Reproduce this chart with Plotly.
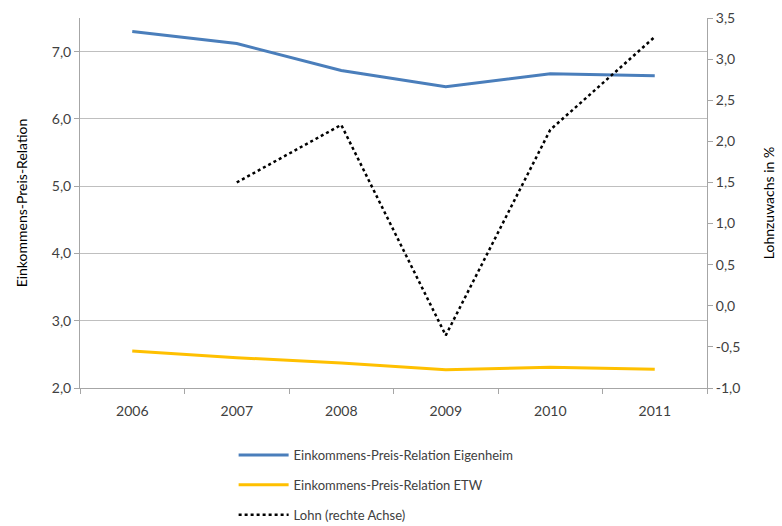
import plotly.graph_objects as go

years = ["2006", "2007", "2008", "2009", "2010", "2011"]
eigenheim = [7.30, 7.12, 6.72, 6.48, 6.67, 6.64]
etw = [2.55, 2.45, 2.37, 2.27, 2.31, 2.28]
lohn = [None, 1.5, 2.2, -0.36, 2.14, 3.27]

left_ticks = [2, 3, 4, 5, 6, 7]
left_labels = ["2,0", "3,0", "4,0", "5,0", "6,0", "7,0"]
right_ticks = [-1.0, -0.5, 0.0, 0.5, 1.0, 1.5, 2.0, 2.5, 3.0, 3.5]
right_labels = ["-1,0", "-0,5", "0,0", "0,5", "1,0", "1,5", "2,0", "2,5", "3,0", "3,5"]

FONT = "Lato, Open Sans, sans-serif"
TXT = "#404040"
AX = "#a6a6a6"

fig = go.Figure()
fig.add_trace(go.Scatter(x=years, y=eigenheim, mode="lines",
                         name="Einkommens-Preis-Relation Eigenheim",
                         line=dict(color="#4a7ebb", width=3), legendgroup="a"))
fig.add_trace(go.Scatter(x=years, y=etw, mode="lines",
                         name="Einkommens-Preis-Relation ETW",
                         line=dict(color="#ffc000", width=3), legendgroup="b"))
fig.add_trace(go.Scatter(x=years, y=lohn, mode="lines",
                         name="Lohn (rechte Achse)", yaxis="y2",
                         line=dict(color="#000000", width=2.5, dash="dot"),
                         legendgroup="c"))

fig.update_layout(
    width=782, height=526,
    margin=dict(l=80, r=75, t=18, b=138, autoexpand=False),
    paper_bgcolor="white", plot_bgcolor="white",
    font=dict(family=FONT, size=14, color=TXT),
    showlegend=True,
    legend=dict(x=0.245, y=1 - 440 / 526, xanchor="left", yanchor="top",
                yref="container",
                traceorder="grouped", tracegroupgap=10, itemwidth=50,
                font=dict(size=13, color=TXT), bgcolor="rgba(0,0,0,0)"),
    xaxis=dict(type="category", range=[-0.5, 5.5], showline=True,
               linecolor=AX, linewidth=1, ticks="outside", tickson="boundaries",
               ticklen=5, tickcolor=AX, showgrid=False, zeroline=False,
               ticklabelstandoff=10,
               tickfont=dict(size=14, color=TXT)),
    yaxis=dict(range=[2, 7.5], tickvals=left_ticks, ticktext=left_labels,
               showline=True, linecolor=AX, linewidth=1, ticks="outside",
               ticklen=5, tickcolor=AX, showgrid=True, gridcolor="#bfbfbf",
               gridwidth=1, zeroline=False,
               title=dict(text="Einkommens-Preis-Relation", font=dict(size=14, color="#000000"), standoff=20),
               tickfont=dict(size=14, color=TXT)),
    yaxis2=dict(range=[-1, 3.5], tickvals=right_ticks, ticktext=right_labels,
                overlaying="y", side="right", showline=True, linecolor=AX,
                linewidth=1, ticks="outside", ticklen=5, tickcolor=AX,
                showgrid=False, zeroline=False,
                title=dict(text="Lohnzuwachs in %", font=dict(size=14, color="#000000"), standoff=24),
                tickfont=dict(size=14, color=TXT)),
)

fig.write_html("out.html")
